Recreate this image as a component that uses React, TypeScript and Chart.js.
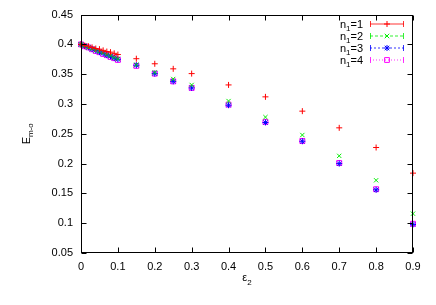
import React, { useEffect, useRef } from "react";
import { Chart, registerables } from "chart.js";

Chart.register(...registerables);

// ---- data ----
const epsilon2 = [0, 0.01, 0.02, 0.03, 0.04, 0.05, 0.06, 0.07, 0.08, 0.09, 0.1, 0.15, 0.2, 0.25, 0.3, 0.4, 0.5, 0.6, 0.7, 0.8, 0.9];
const emoN1 = [0.400, 0.398, 0.397, 0.395, 0.393, 0.392, 0.390, 0.388, 0.387, 0.385, 0.383, 0.376, 0.3675, 0.359, 0.351, 0.332, 0.312, 0.288, 0.260, 0.227, 0.184];
const emoN2 = [0.400, 0.398, 0.395, 0.393, 0.390, 0.388, 0.386, 0.383, 0.381, 0.378, 0.376, 0.366, 0.353, 0.342, 0.332, 0.305, 0.278, 0.248, 0.213, 0.172, 0.116];
const emoN3 = [0.400, 0.397, 0.395, 0.392, 0.390, 0.387, 0.385, 0.382, 0.380, 0.377, 0.375, 0.365, 0.351, 0.338, 0.327, 0.298, 0.269, 0.2375, 0.200, 0.156, 0.098];
const emoN4 = [0.400, 0.397, 0.395, 0.392, 0.389, 0.387, 0.384, 0.382, 0.379, 0.377, 0.374, 0.364, 0.351, 0.338, 0.327, 0.299, 0.270, 0.238, 0.201, 0.157, 0.099];
const seriesLabels = ["1", "2", "3", "4"];
const seriesColors = ["#ff0000", "#00ee00", "#0000ff", "#ff00ff"];
const seriesStyles = ["cross", "crossRot", "star", "rect"];
const seriesDashes: number[][] = [[], [3, 2], [2, 2], [1, 2]];
const xTicks = [0, 0.1, 0.2, 0.3, 0.4, 0.5, 0.6, 0.7, 0.8, 0.9];
const yTicks = [0.05, 0.1, 0.15, 0.2, 0.25, 0.3, 0.35, 0.4, 0.45];

const FONT = '"Liberation Sans", Arial, Helvetica, sans-serif';

function drawMarker(ctx: CanvasRenderingContext2D, style: string, x: number, y: number, r: number) {
  ctx.beginPath();
  if (style === "cross" || style === "star") {
    ctx.moveTo(x - r, y); ctx.lineTo(x + r, y);
    ctx.moveTo(x, y - r); ctx.lineTo(x, y + r);
  }
  if (style === "crossRot" || style === "star") {
    const d = r * 0.75;
    ctx.moveTo(x - d, y - d); ctx.lineTo(x + d, y + d);
    ctx.moveTo(x - d, y + d); ctx.lineTo(x + d, y - d);
  }
  if (style === "rect") {
    ctx.rect(x - r * 0.8, y - r * 0.8, r * 1.6, r * 1.6);
  }
  ctx.stroke();
}

type Part = { t: string; sub?: boolean };
function drawParts(ctx: CanvasRenderingContext2D, parts: Part[], x: number, y: number, align: "left" | "center" | "right", size: number, subSize: number, subShift: number) {
  const fontFor = (p: Part) => `${p.sub ? subSize : size}px ${FONT}`;
  let total = 0;
  for (const p of parts) { ctx.font = fontFor(p); total += ctx.measureText(p.t).width; }
  let cx = align === "left" ? x : align === "center" ? x - total / 2 : x - total;
  ctx.textAlign = "left";
  ctx.textBaseline = "alphabetic";
  for (const p of parts) {
    ctx.font = fontFor(p);
    ctx.fillText(p.t, cx, y + (p.sub ? subShift : 0));
    cx += ctx.measureText(p.t).width;
  }
}

const framePlugin = {
  id: "gnuFrame",
  afterDatasetsDraw(chart: any) {
    const { ctx, chartArea } = chart;
    const { left, right, top, bottom } = chartArea;
    const xs = chart.scales.x;
    const ys = chart.scales.y;
    ctx.save();
    ctx.strokeStyle = "#000";
    ctx.lineWidth = 1;
    ctx.setLineDash([]);
    const L = Math.round(left) + 0.5, R = Math.round(right) - 0.5, T = Math.round(top) + 0.5, B = Math.round(bottom) - 0.5;
    ctx.strokeRect(L, T, R - L, B - T);
    ctx.beginPath();
    for (const v of xTicks) {
      const px = Math.round(xs.getPixelForValue(v)) + 0.5;
      ctx.moveTo(px, B); ctx.lineTo(px, B - 5);
      ctx.moveTo(px, T); ctx.lineTo(px, T + 5);
    }
    for (const v of yTicks) {
      const py = Math.round(ys.getPixelForValue(v)) + 0.5;
      ctx.moveTo(L, py); ctx.lineTo(L + 5, py);
      ctx.moveTo(R, py); ctx.lineTo(R - 5, py);
    }
    ctx.stroke();

    // axis titles
    ctx.fillStyle = "#000";
    drawParts(ctx, [{ t: "ε" }, { t: "2", sub: true }], (left + right) / 2, 281, "center", 11, 8, 4);
    ctx.save();
    ctx.translate(30, (top + bottom) / 2);
    ctx.rotate(-Math.PI / 2);
    drawParts(ctx, [{ t: "E" }, { t: "m-o", sub: true }], 0, 0, "center", 11, 8, 3);
    ctx.restore();

    // legend
    const rowY = [24, 36, 48, 60];
    for (let i = 0; i < 4; i++) {
      const y = rowY[i];
      ctx.fillStyle = "#000";
      drawParts(ctx, [{ t: "n" }, { t: "1", sub: true }, { t: "=" + seriesLabels[i] }], 363, y + 4, "right", 11, 8, 3);
      ctx.strokeStyle = seriesColors[i];
      ctx.globalAlpha = 0.8;
      ctx.lineWidth = 1;
      ctx.setLineDash(seriesDashes[i]);
      ctx.beginPath();
      ctx.moveTo(370, y); ctx.lineTo(404, y);
      ctx.stroke();
      ctx.setLineDash([]);
      ctx.beginPath();
      ctx.moveTo(370.5, y - 3); ctx.lineTo(370.5, y + 3);
      ctx.moveTo(403.5, y - 3); ctx.lineTo(403.5, y + 3);
      ctx.stroke();
      ctx.globalAlpha = 1;
      drawMarker(ctx, seriesStyles[i], 387, y, 3);
    }
    ctx.restore();
  },
};

const fmt = (v: number) => String(parseFloat(Number(v).toFixed(2)));

export default function App() {
  const ref = useRef<HTMLCanvasElement | null>(null);
  useEffect(() => {
    if (!ref.current) return;
    const series = [emoN1, emoN2, emoN3, emoN4];
    const chart = new Chart(ref.current, {
      type: "scatter",
      data: {
        datasets: series.map((arr, i) => ({
          label: "n1=" + seriesLabels[i],
          data: epsilon2.map((x, k) => ({ x, y: arr[k] })),
          borderColor: seriesColors[i],
          backgroundColor: "rgba(0,0,0,0)",
          pointStyle: seriesStyles[i] as any,
          pointRadius: seriesStyles[i] === "rect" ? 3.5 : 3,
          pointBorderWidth: 1,
          showLine: false,
          clip: false as any,
        })),
      },
      options: {
        responsive: false,
        animation: false,
        devicePixelRatio: 1,
        layout: { padding: { left: 0, top: 14, right: 23, bottom: 0 } },
        plugins: { legend: { display: false }, tooltip: { enabled: false }, title: { display: false } },
        scales: {
          x: {
            type: "linear",
            min: 0,
            max: 0.9,
            afterFit: (s: any) => { s.height = 52; },
            afterBuildTicks: (s: any) => { s.ticks = xTicks.map((v) => ({ value: v })); },
            grid: { display: false, drawTicks: false },
            border: { display: false },
            ticks: { color: "#000", font: { family: FONT, size: 11 }, padding: 7, maxRotation: 0, autoSkip: false, callback: (v: any) => fmt(v) },
          },
          y: {
            type: "linear",
            min: 0.05,
            max: 0.45,
            afterFit: (s: any) => { s.width = 81; },
            afterBuildTicks: (s: any) => { s.ticks = yTicks.map((v) => ({ value: v })); },
            grid: { display: false, drawTicks: false },
            border: { display: false },
            ticks: { color: "#000", font: { family: FONT, size: 11 }, padding: 8, autoSkip: false, callback: (v: any) => fmt(v) },
          },
        },
      },
      plugins: [framePlugin],
    });
    return () => chart.destroy();
  }, []);
  return (
    <div style={{ position: "fixed", left: 0, top: 0, width: 436, height: 305, background: "#fff" }}>
      <canvas ref={ref} width={436} height={305} style={{ width: 436, height: 305, display: "block" }} />
    </div>
  );
}
